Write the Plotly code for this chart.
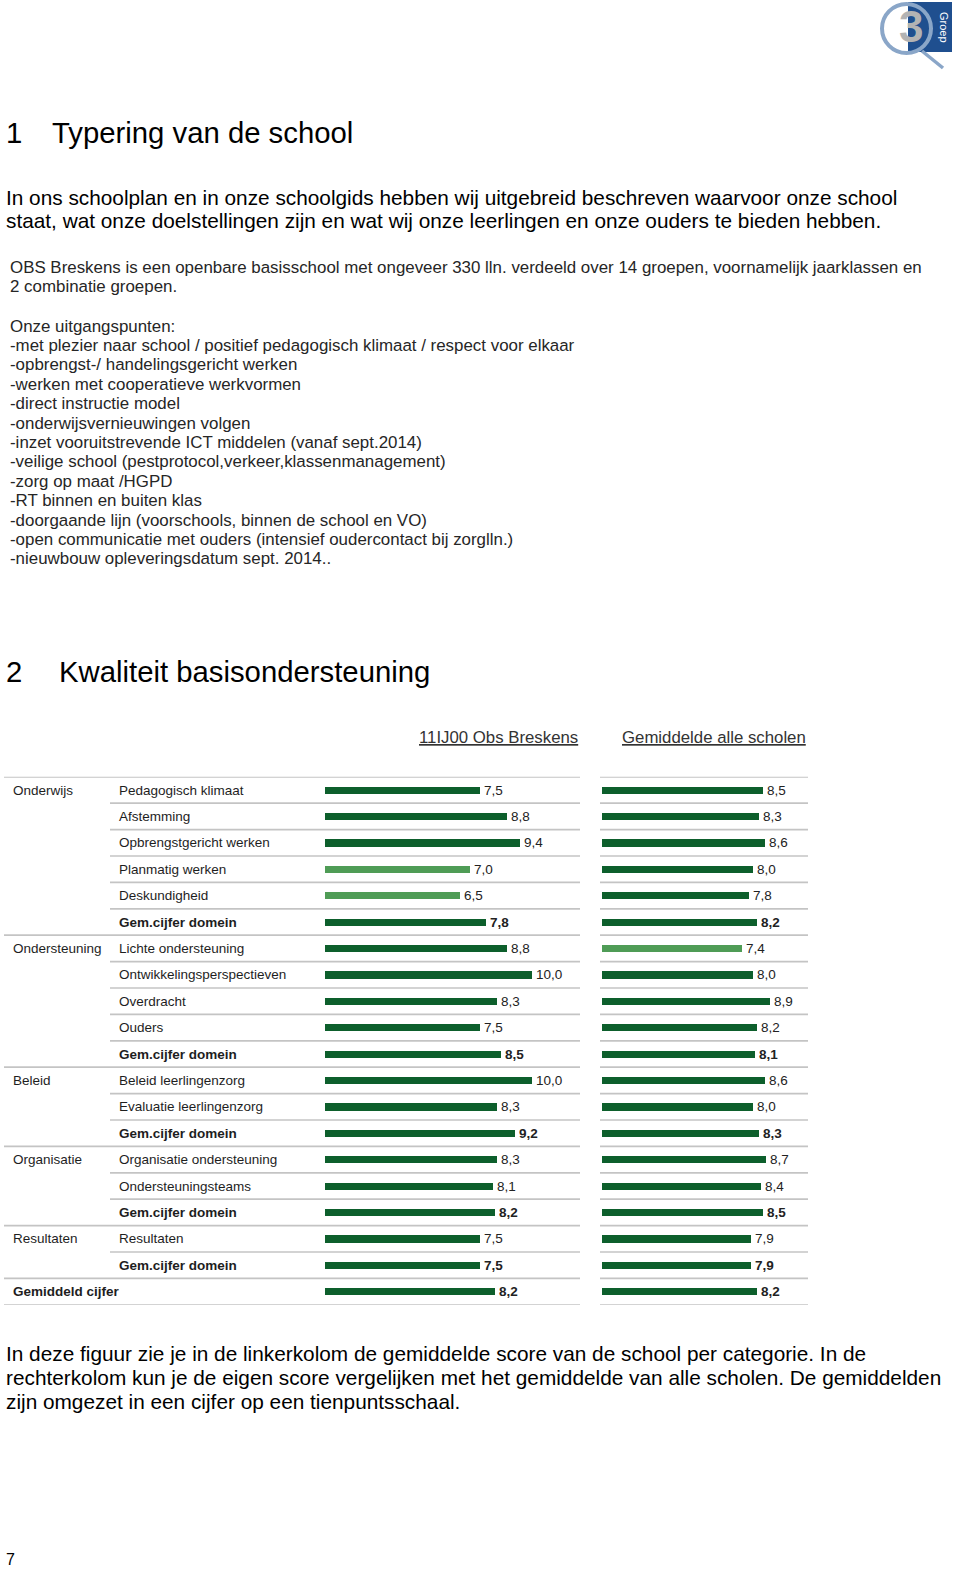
import plotly.graph_objects as go

# ---------------- data ----------------
group_labels = ["Onderwijs", "", "", "", "", "",
                "Ondersteuning", "", "", "", "",
                "Beleid", "", "",
                "Organisatie", "", "",
                "Resultaten", "",
                "Gemiddeld cijfer"]
sub_labels = ["Pedagogisch klimaat", "Afstemming", "Opbrengstgericht werken",
              "Planmatig werken", "Deskundigheid", "Gem.cijfer domein",
              "Lichte ondersteuning", "Ontwikkelingsperspectieven", "Overdracht",
              "Ouders", "Gem.cijfer domein",
              "Beleid leerlingenzorg", "Evaluatie leerlingenzorg", "Gem.cijfer domein",
              "Organisatie ondersteuning", "Ondersteuningsteams", "Gem.cijfer domein",
              "Resultaten", "Gem.cijfer domein",
              ""]
school_scores = [7.5, 8.8, 9.4, 7.0, 6.5, 7.8,
                 8.8, 10.0, 8.3, 7.5, 8.5,
                 10.0, 8.3, 9.2,
                 8.3, 8.1, 8.2,
                 7.5, 7.5,
                 8.2]
average_scores = [8.5, 8.3, 8.6, 8.0, 7.8, 8.2,
                  7.4, 8.0, 8.9, 8.2, 8.1,
                  8.6, 8.0, 8.3,
                  8.7, 8.4, 8.5,
                  7.9, 7.9,
                  8.2]
summary_rows = ["Gem.cijfer domein", "Gemiddeld cijfer"]
header_school = "11IJ00 Obs Breskens"
header_average = "Gemiddelde alle scholen"

title1 = "Typering van de school"
title2 = "Kwaliteit basisondersteuning"
intro_lines = [
    "In ons schoolplan en in onze schoolgids hebben wij uitgebreid beschreven waarvoor onze school",
    "staat, wat onze doelstellingen zijn en wat wij onze leerlingen en onze ouders te bieden hebben.",
]
obs_lines = [
    "OBS Breskens is een openbare basisschool met ongeveer 330 lln. verdeeld over 14 groepen, voornamelijk jaarklassen en",
    "2 combinatie groepen.",
]
points_lines = [
    "Onze uitgangspunten:",
    "-met plezier naar school / positief pedagogisch klimaat / respect voor elkaar",
    "-opbrengst-/ handelingsgericht werken",
    "-werken met cooperatieve werkvormen",
    "-direct instructie model",
    "-onderwijsvernieuwingen volgen",
    "-inzet vooruitstrevende ICT middelen (vanaf sept.2014)",
    "-veilige school (pestprotocol,verkeer,klassenmanagement)",
    "-zorg op maat /HGPD",
    "-RT binnen en buiten klas",
    "-doorgaande lijn (voorschools, binnen de school en VO)",
    "-open communicatie met ouders (intensief oudercontact bij zorglln.)",
    "-nieuwbouw opleveringsdatum sept. 2014..",
]
outro_lines = [
    "In deze figuur zie je in de linkerkolom de gemiddelde score van de school per categorie. In de",
    "rechterkolom kun je de eigen score vergelijken met het gemiddelde van alle scholen. De gemiddelden",
    "zijn omgezet in een cijfer op een tienpuntsschaal.",
]
page_number = "7"

# ---------------- layout helpers ----------------
W, H = 960, 1573
FONT = "Liberation Sans"
DARK = "#0d5f2c"
LIGHT = "#4f9c56"
LINE = "#c4c4c4"


def X(px):
    return px / W


def Y(py):
    return 1 - py / H


n = len(sub_labels)
rows = list(range(n))
TABLE_TOP, ROW_H = 776.8, 26.4
TABLE_BOT = TABLE_TOP + ROW_H * n

L_X0, L_X1, L_SCALE = 325, 580, 20.7
R_X0, R_X1, R_SCALE = 602, 808, 18.9


def colors(vals):
    return [LIGHT if v < 7.5 else DARK for v in vals]


fig = go.Figure()
fig.add_trace(go.Bar(x=school_scores, y=rows, orientation="h", width=0.27,
                     marker=dict(color=colors(school_scores), line=dict(width=0)),
                     xaxis="x", yaxis="y", hoverinfo="skip"))
fig.add_trace(go.Bar(x=average_scores, y=rows, orientation="h", width=0.27,
                     marker=dict(color=colors(average_scores), line=dict(width=0)),
                     xaxis="x2", yaxis="y2", hoverinfo="skip"))

ann = []


def txt(px, py, s, size, color="#000", anchor="left", **kw):
    ann.append(dict(x=X(px), y=Y(py), xref="paper", yref="paper", text=s,
                    showarrow=False, xanchor=anchor, yanchor="middle",
                    font=dict(family=FONT, size=size, color=color), **kw))


# page texts
txt(4, 132, "1", 29.3)
txt(50, 132, title1, 29.3)
for i, s in enumerate(intro_lines):
    txt(4, 197 + 24 * i, s, 20.8)
for i, s in enumerate(obs_lines):
    txt(8, 267 + 19.5 * i, s, 16.9, "#262626")
for i, s in enumerate(points_lines):
    txt(8, 326 + 19.4 * i, s, 16.9, "#262626")
txt(4, 672, "2", 29.3)
txt(57, 672, title2, 29.3)
for i, s in enumerate(outro_lines):
    txt(4, 1353 + 24 * i, s, 20.8)
txt(4, 1559, page_number, 16)

# headers
txt(498, 737, "<u>" + header_school + "</u>", 16.8, "#333", anchor="center")
txt(714, 737, "<u>" + header_average + "</u>", 16.8, "#333", anchor="center")

# row labels and values
for i in rows:
    bold_row = sub_labels[i] in summary_rows or group_labels[i] in summary_rows
    if group_labels[i]:
        t = group_labels[i]
        if group_labels[i] in summary_rows:
            t = "<b>" + t + "</b>"
        ann.append(dict(x=X(11), y=i, xref="paper", yref="y", text=t, showarrow=False,
                        xanchor="left", yanchor="middle",
                        font=dict(family=FONT, size=13.5, color="#1e1e1e")))
    if sub_labels[i]:
        t = sub_labels[i]
        if bold_row:
            t = "<b>" + t + "</b>"
        ann.append(dict(x=X(117), y=i, xref="paper", yref="y", text=t, showarrow=False,
                        xanchor="left", yanchor="middle",
                        font=dict(family=FONT, size=13.5, color="#1e1e1e")))
    for xr, yr, v in (("x", "y", school_scores[i]), ("x2", "y2", average_scores[i])):
        t = f"{v:.1f}".replace(".", ",")
        if bold_row:
            t = "<b>" + t + "</b>"
        ann.append(dict(x=v, y=i, xref=xr, yref=yr, text=t, showarrow=False,
                        xanchor="left", yanchor="middle", xshift=2,
                        font=dict(family=FONT, size=13.5, color="#222")))

# separator lines
group_starts = [i for i in rows if group_labels[i]]
shapes = []
for b in range(-1, n):
    full = b == -1 or b == n - 1 or (b + 1) in group_starts
    x0 = 4 if full else 110
    shapes.append(dict(type="line", xref="paper", yref="y", x0=X(x0), x1=X(580),
                       y0=b + 0.5, y1=b + 0.5, line=dict(color=LINE, width=1.7)))
    shapes.append(dict(type="line", xref="paper", yref="y", x0=X(600), x1=X(808),
                       y0=b + 0.5, y1=b + 0.5, line=dict(color=LINE, width=1.7)))

# logo
shapes.append(dict(type="rect", xref="paper", yref="paper", x0=X(908), x1=X(952),
                   y0=Y(52), y1=Y(2), fillcolor="#1f4f8f", line=dict(width=0), layer="below"))
shapes.append(dict(type="line", xref="paper", yref="paper", x0=X(922), x1=X(943),
                   y0=Y(51), y1=Y(68), line=dict(color="#8aa6c8", width=3.5)))
shapes.append(dict(type="circle", xref="paper", yref="paper", x0=X(882), x1=X(931),
                   y0=Y(53), y1=Y(4), line=dict(color="#8aa6c8", width=4)))
ann.append(dict(x=X(911), y=Y(27), xref="paper", yref="paper", text="<b>3</b>",
                showarrow=False, xanchor="center", yanchor="middle",
                font=dict(family=FONT, size=44, color="#b3b3b3")))
ann.append(dict(x=X(944), y=Y(27), xref="paper", yref="paper", text="Groep",
                showarrow=False, xanchor="center", yanchor="middle", textangle=90,
                font=dict(family=FONT, size=11, color="#ffffff")))

ydom = [Y(TABLE_BOT), Y(TABLE_TOP)]
fig.update_layout(
    width=W, height=H, margin=dict(l=0, r=0, t=0, b=0),
    paper_bgcolor="white", plot_bgcolor="rgba(0,0,0,0)",
    showlegend=False, bargap=0, hovermode=False,
    xaxis=dict(domain=[X(L_X0), X(L_X1)], range=[0, (L_X1 - L_X0) / L_SCALE],
               visible=False, fixedrange=True),
    xaxis2=dict(domain=[X(R_X0), X(R_X1)], range=[0, (R_X1 - R_X0) / R_SCALE],
                visible=False, anchor="y2", fixedrange=True),
    yaxis=dict(domain=ydom, range=[n - 0.5, -0.5], visible=False, fixedrange=True),
    yaxis2=dict(domain=ydom, range=[n - 0.5, -0.5], visible=False, anchor="x2",
                fixedrange=True),
    annotations=ann, shapes=shapes,
)

# remove the default 8px page margin so the figure fills the window exactly
fig.write_html("out.html", config={"displayModeBar": False},
               post_script="document.body.style.margin='0';document.body.style.overflow='hidden';")
